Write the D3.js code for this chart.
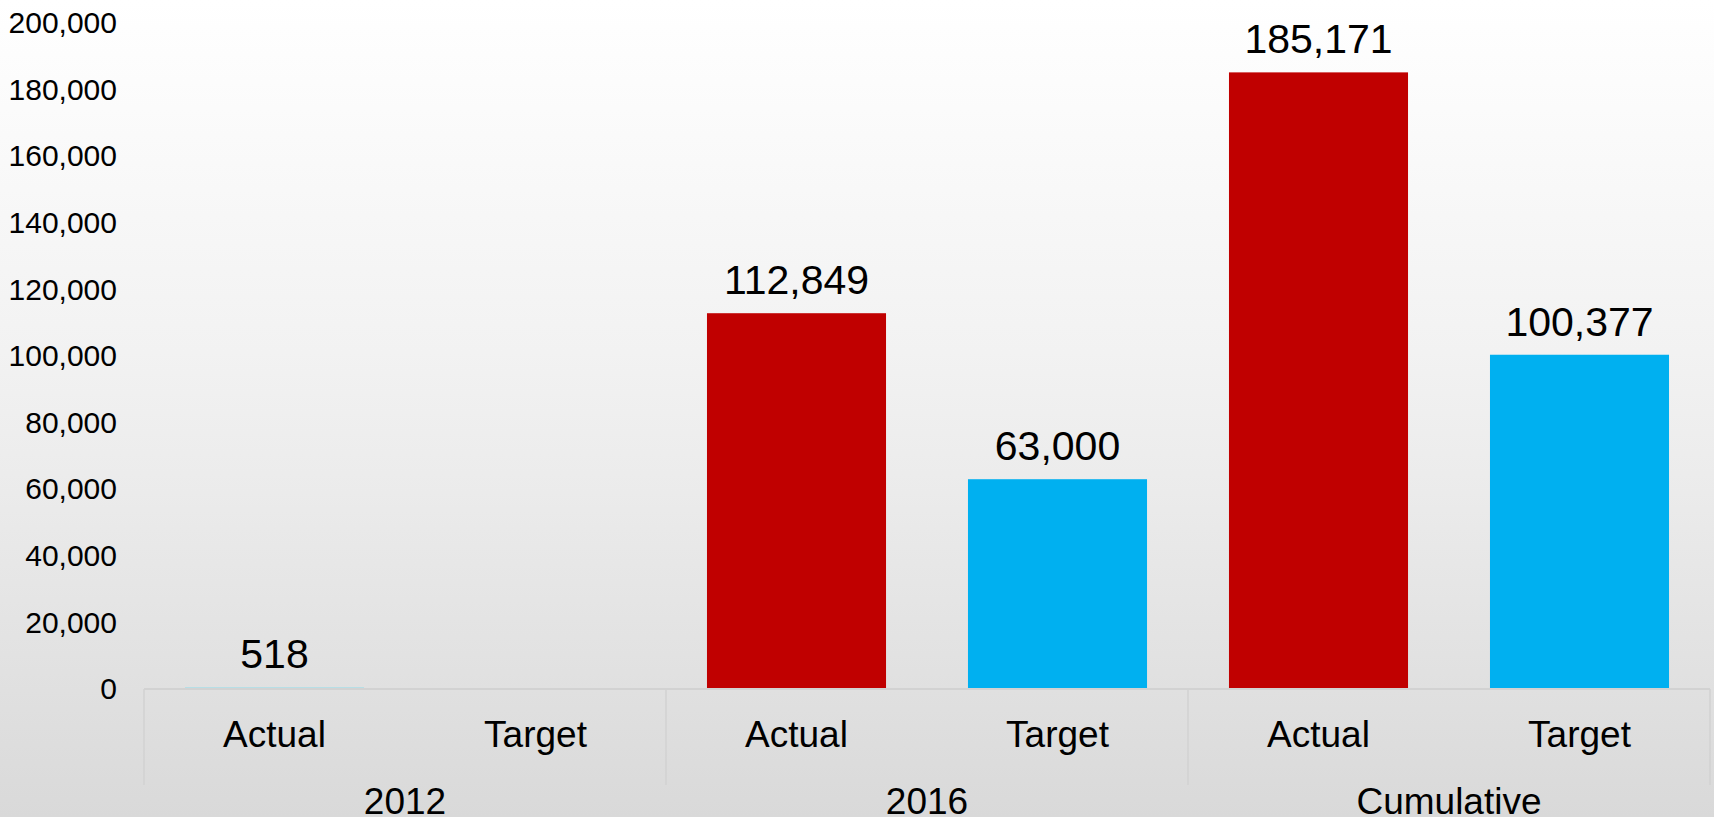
<!DOCTYPE html>
<html>
<head>
<meta charset="utf-8">
<script src="https://cdn.jsdelivr.net/npm/d3@7"></script>
<style>
  html, body { margin: 0; padding: 0; overflow: hidden; }
  svg { display: block; font-family: "Liberation Sans", Arial, sans-serif; }
</style>
</head>
<body>
<div id="chart"></div>
<script>
const groups = ['2012', '2016', 'Cumulative']
const kinds = ['Actual', 'Target']
const actualValues = [518, 112849, 185171]
const targetValues = [null, 63000, 100377]
const actualColors = ['#a8dde6', '#c00000', '#c00000']
const targetColor = '#00b0f0'
const yTickValues = [0, 20000, 40000, 60000, 80000, 100000, 120000, 140000, 160000, 180000, 200000]

const width = 1714, height = 817
const margin = { left: 144, right: 4, top: 23, bottom: 128 }

const svg = d3.select('#chart').append('svg')
    .attr('width', width)
    .attr('height', height)

// background gradient
const grad = svg.append('defs').append('linearGradient')
    .attr('id', 'bg')
    .attr('x1', 0).attr('y1', 0).attr('x2', 0).attr('y2', 1)
grad.append('stop').attr('offset', '0%').attr('stop-color', '#ffffff')
grad.append('stop').attr('offset', '43%').attr('stop-color', '#f2f2f2')
grad.append('stop').attr('offset', '58%').attr('stop-color', '#ececec')
grad.append('stop').attr('offset', '100%').attr('stop-color', '#d9d9d9')
svg.append('rect').attr('width', width).attr('height', height).attr('fill', 'url(#bg)')

// one row per bar: group + kind
const rows = []
groups.forEach((g, i) => {
  rows.push({ group: g, kind: kinds[0], value: actualValues[i], color: actualColors[i] })
  rows.push({ group: g, kind: kinds[1], value: targetValues[i], color: targetColor })
})
rows.forEach(d => d.key = d.group + '|' + d.kind)

const x = d3.scaleBand()
    .domain(rows.map(d => d.key))
    .range([margin.left, width - margin.right])
    .paddingInner(0.314)
    .paddingOuter(0.157)

const y = d3.scaleLinear()
    .domain([0, 200000])
    .range([height - margin.bottom, margin.top])

const baseY = y(0)

// y axis labels
const yAxis = svg.append('g')
    .attr('transform', 'translate(' + margin.left + ',0)')
    .call(d3.axisLeft(y).tickValues(yTickValues).tickSize(0).tickPadding(27).tickFormat(d3.format(',')))
yAxis.select('.domain').remove()
yAxis.selectAll('text')
    .attr('font-size', 30)
    .attr('font-family', '"Liberation Sans", Arial, sans-serif')
    .attr('fill', '#000')

// bars
svg.append('g').selectAll('rect')
    .data(rows.filter(d => d.value != null))
    .join('rect')
    .attr('x', d => x(d.key))
    .attr('width', x.bandwidth())
    .attr('y', d => y(d.value))
    .attr('height', d => Math.max(1.5, baseY - y(d.value)))
    .attr('fill', d => d.color)

// data labels
svg.append('g').selectAll('text')
    .data(rows.filter(d => d.value != null))
    .join('text')
    .attr('x', d => x(d.key) + x.bandwidth() / 2)
    .attr('y', d => y(d.value) - 19)
    .attr('text-anchor', 'middle')
    .attr('font-size', 41)
    .attr('fill', '#000')
    .text(d => d3.format(',')(d.value))

// category axis lines
const lineColor = '#d2d2d2'
const stepHalf = x.step() / 2
const left = margin.left, right = width - margin.right
svg.append('line')
    .attr('x1', left).attr('x2', right)
    .attr('y1', baseY).attr('y2', baseY)
    .attr('stroke', lineColor).attr('stroke-width', 2)

const groupEdges = [left].concat(groups.map(g => x(g + '|' + kinds[1]) + x.bandwidth() / 2 + stepHalf))
svg.append('g').selectAll('line')
    .data(groupEdges)
    .join('line')
    .attr('x1', d => d).attr('x2', d => d)
    .attr('y1', baseY).attr('y2', 785)
    .attr('stroke', lineColor).attr('stroke-width', 1.5)

// sub category labels
svg.append('g').selectAll('text')
    .data(rows)
    .join('text')
    .attr('x', d => x(d.key) + x.bandwidth() / 2)
    .attr('y', 747)
    .attr('text-anchor', 'middle')
    .attr('font-size', 37)
    .attr('fill', '#000')
    .text(d => d.kind)

// group labels
svg.append('g').selectAll('text')
    .data(groups)
    .join('text')
    .attr('x', g => (x(g + '|' + kinds[0]) + x(g + '|' + kinds[1]) + x.bandwidth()) / 2)
    .attr('y', 814)
    .attr('text-anchor', 'middle')
    .attr('font-size', 37)
    .attr('fill', '#000')
    .text(g => g)
</script>
</body>
</html>
